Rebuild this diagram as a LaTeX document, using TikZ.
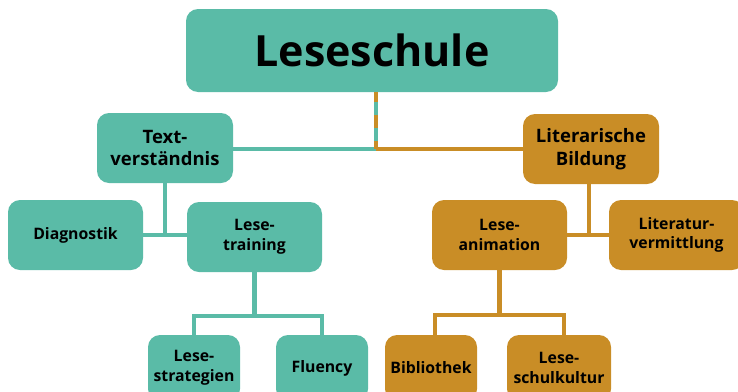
\documentclass[tikz,border=0pt]{standalone}
\usepackage{fontspec}
\setmainfont{Open Sans}
\usepackage{tikz}
\usetikzlibrary{positioning}
\definecolor{lsteal}{RGB}{90,187,167}
\definecolor{lsgold}{RGB}{201,141,38}

\begin{document}
\begin{tikzpicture}[
  x=1pt, y=-1pt,
  box/.style={rectangle, rounded corners=12pt, align=center, inner sep=2pt,
    font=\fontsize{15.8}{19.5}\selectfont\bfseries},
  tealbox/.style={box, fill=lsteal},
  goldbox/.style={box, fill=lsgold},
  topbox/.style={font=\fontsize{18.5}{22.5}\selectfont\bfseries, minimum width=136pt, minimum height=70pt},
  midbox/.style={minimum width=135pt, minimum height=70pt},
  lowbox/.style={minimum height=66pt},
  tline/.style={draw=lsteal, line width=4.5pt},
  gline/.style={draw=lsgold, line width=4.5pt}
]
\useasboundingbox (0,0) rectangle (738,391);
% ----- Root -----
\node[tealbox, minimum width=372pt, minimum height=83pt,
  font=\fontsize{43}{50}\selectfont\bfseries] (root) at (372,50.5) {Leseschule};
% ----- Level 1 -----
\node[tealbox, topbox] (tv) at (165,148) {Text-\\verständnis};
\node[goldbox, topbox] (lb) at (591,149) {Literarische\\Bildung};
% ----- Teal branch -----
\node[tealbox, midbox] (diag) at (75.5,235) {Diagnostik};
\node[tealbox, midbox] (lt) at (254.5,237) {Lese-\\training};
\node[tealbox, lowbox, minimum width=92pt] (ls) at (194,368) {Lese-\\strategien};
\node[tealbox, lowbox, minimum width=92pt] (fl) at (322,368) {Fluency};
% ----- Gold branch -----
\node[goldbox, midbox] (la) at (499.5,235) {Lese-\\animation};
\node[goldbox, midbox] (lv) at (676.5,235) {Literatur-\\vermittlung};
\node[goldbox, lowbox, minimum width=92pt] (bib) at (431,368) {Bibliothek};
\node[goldbox, lowbox, minimum width=104pt] (lsk) at (559,368) {Lese-\\schulkultur};
% ----- Connectors -----
\coordinate (hub) at (376,149);
\draw[tline] (tv.east |- hub) -- (hub);
\draw[tline] (hub |- root.south) -- (hub);
\draw[gline, dash pattern=on 13pt off 13pt, dash phase=3pt] (hub |- root.south) -- (hub);
\draw[gline] (hub) -- (lb.west |- hub);
\draw[tline] (tv.south) -- (tv.south |- diag.east);
\draw[tline] (diag.east) -- (diag.east -| lt.west);
\draw[tline] (lt.south) -- ++(0,44) coordinate (ltj);
\draw[tline] (ls.north) |- (ltj) -| (fl.north);
\draw[gline] ([xshift=-2pt]lb.south) -- ([xshift=-2pt]lb.south |- la.east);
\draw[gline] (la.east) -- (lv.west);
\draw[gline] (la.south) -- ++(0,45) coordinate (laj);
\draw[gline] ([xshift=4pt]bib.north) |- (laj) -| ([xshift=5pt]lsk.north);
\end{tikzpicture}
\end{document}
